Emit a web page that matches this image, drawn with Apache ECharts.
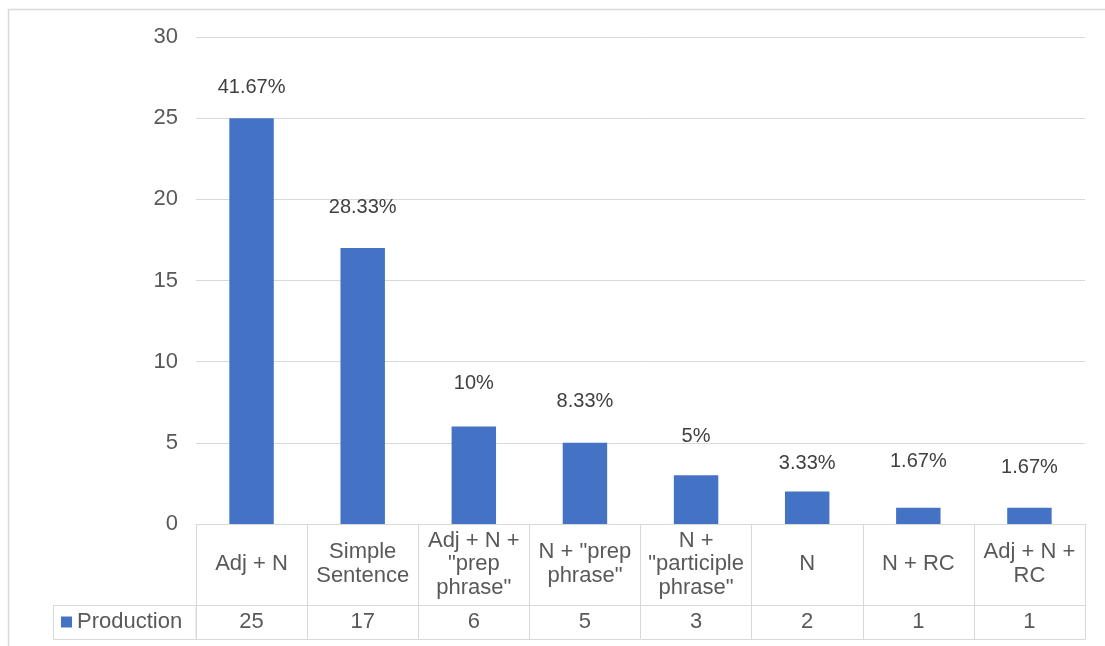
<!DOCTYPE html>
<html>
<head>
<meta charset="utf-8">
<script src="https://cdn.jsdelivr.net/npm/echarts@6/dist/echarts.min.js"></script>
<style>
  html, body { margin: 0; padding: 0; background: #fff; }
  #chart { width: 1105px; height: 646px; }
</style>
</head>
<body>
<div id="chart"></div>
<script>
// Noun-phrase production counts by structure
const seriesName = 'Production';
const categories = [
  'Adj + N',
  'Simple\nSentence',
  'Adj + N +\n"prep\nphrase"',
  'N + "prep\nphrase"',
  'N +\n"participle\nphrase"',
  'N',
  'N + RC',
  'Adj + N +\nRC'
];
const production = [25, 17, 6, 5, 3, 2, 1, 1];
const yTicks = { min: 0, max: 30, interval: 5 };

// how far each percentage label floats above its bar (px)
const labelLift = [21, 31, 33, 31, 29, 18, 36, 30];

const total = production.reduce((a, b) => a + b, 0);
const pct = v => parseFloat((v / total * 100).toFixed(2)) + '%';

const FONT = '"Liberation Sans", Arial, sans-serif';
const GRID_LINE = '#d9d9d9';
const TEXT = '#595959';
const BAR = '#4472c4';
const FS = 22;

const chart = echarts.init(document.getElementById('chart'), null, { renderer: 'canvas' });

chart.setOption({
  animation: false,
  backgroundColor: '#ffffff',
  textStyle: { fontFamily: FONT },
  grid: { left: 196, right: 20, top: 37, bottom: 122, containLabel: false },
  legend: {
    data: [seriesName],
    left: 61,
    top: 611,
    padding: 0,
    icon: 'rect',
    itemWidth: 11,
    itemHeight: 11,
    itemGap: 5,
    selectedMode: false,
    textStyle: { fontSize: FS, color: TEXT, fontFamily: FONT }
  },
  xAxis: [
    {
      type: 'category',
      data: categories,
      position: 'bottom',
      axisLine: { show: true, lineStyle: { color: GRID_LINE, width: 1 } },
      axisTick: { show: true, length: 115, lineStyle: { color: GRID_LINE, width: 1 } },
      axisLabel: {
        interval: 0,
        margin: 40,
        verticalAlign: 'middle',
        fontSize: FS,
        lineHeight: 23.5,
        color: TEXT,
        fontFamily: FONT
      }
    },
    {
      // data-table row with the counts
      type: 'category',
      data: categories,
      position: 'bottom',
      offset: 81,
      axisLine: { show: true, lineStyle: { color: GRID_LINE, width: 1 } },
      axisTick: { show: false },
      axisLabel: {
        interval: 0,
        margin: 17,
        verticalAlign: 'middle',
        fontSize: FS,
        color: TEXT,
        fontFamily: FONT,
        formatter: (val, idx) => String(production[idx])
      }
    },
    {
      // bottom border of the data table
      type: 'category',
      data: categories,
      position: 'bottom',
      offset: 115,
      axisLine: { show: true, lineStyle: { color: GRID_LINE, width: 1 } },
      axisTick: { show: false },
      axisLabel: { show: false }
    }
  ],
  yAxis: {
    type: 'value',
    min: yTicks.min,
    max: yTicks.max,
    interval: yTicks.interval,
    axisLine: { show: false },
    axisTick: { show: false },
    axisLabel: { fontSize: FS, color: TEXT, margin: 18, fontFamily: FONT },
    splitLine: { lineStyle: { color: GRID_LINE, width: 1 } }
  },
  series: [
    {
      name: seriesName,
      type: 'bar',
      xAxisIndex: 0,
      barWidth: '40%',
      itemStyle: { color: BAR },
      data: production.map((v, i) => ({
        value: v,
        label: { distance: labelLift[i] }
      })),
      label: {
        show: true,
        position: 'top',
        fontSize: 20,
        color: '#404040',
        fontFamily: FONT,
        formatter: p => pct(p.value)
      }
    }
  ],
  graphic: [
    {
      // outer chart frame
      type: 'rect',
      silent: true,
      z: -1,
      shape: { x: 8.5, y: 9.5, width: 1200, height: 700 },
      style: { fill: 'none', stroke: GRID_LINE, lineWidth: 1.5 }
    },
    {
      // legend cell of the data table
      type: 'rect',
      silent: true,
      shape: { x: 53.5, y: 605.5, width: 142.5, height: 34 },
      style: { fill: 'none', stroke: GRID_LINE, lineWidth: 1 }
    }
  ]
});
</script>
</body>
</html>
